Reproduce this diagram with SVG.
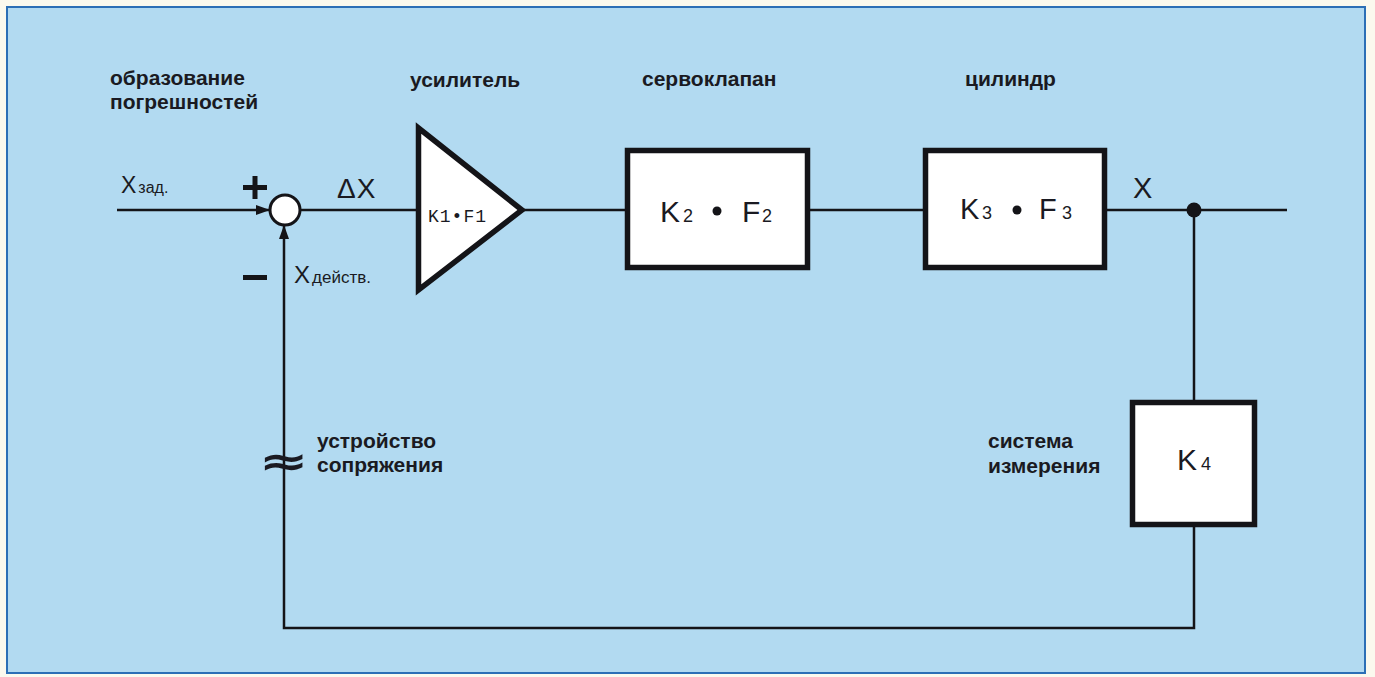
<svg xmlns="http://www.w3.org/2000/svg" width="1375" height="677" viewBox="0 0 1375 677">
<defs>
<style>
.lbl{font-family:"Liberation Sans",Arial,sans-serif;font-weight:bold;font-size:21px;fill:#1a1a22}
.sym{font-family:"Liberation Sans",Arial,sans-serif;font-size:28px;fill:#1a1a22}
.sub{font-family:"Liberation Sans",Arial,sans-serif;font-size:17px;fill:#1a1a22}
.box{fill:#ffffff;stroke:#141418;stroke-width:5.5}
.wire{fill:none;stroke:#141418;stroke-width:2.5}
</style>
<marker id="arr" viewBox="0 0 14 10" refX="14" refY="5" markerWidth="14" markerHeight="10" orient="auto" markerUnits="userSpaceOnUse">
<path d="M0,0 L14,5 L0,10 Z" fill="#141418"/>
</marker>
</defs>
<rect x="0" y="0" width="1375" height="677" fill="#fbf9ee"/>
<rect x="7" y="7" width="1358" height="666" fill="#b2daf1" stroke="#2c6fb6" stroke-width="2"/>

<g id="connectors">
<line class="wire" x1="117" y1="210" x2="270" y2="210" marker-end="url(#arr)"/>
<line class="wire" x1="300" y1="210" x2="418" y2="210"/>
<line class="wire" x1="524" y1="210" x2="626" y2="210"/>
<line class="wire" x1="809" y1="210" x2="924" y2="210"/>
<line class="wire" x1="1106" y1="210" x2="1287" y2="210"/>
<line class="wire" x1="1194" y1="210" x2="1194" y2="401"/>
<polyline class="wire" points="1194,526 1194,628 284,628 284,225" marker-end="url(#arr)"/>
<circle cx="1194" cy="210" r="7.5" fill="#141418"/>
</g>

<g id="sum">
<circle cx="285" cy="210" r="15" fill="#ffffff" stroke="#141418" stroke-width="3"/>
<rect x="243" y="185" width="24" height="5" fill="#141418"/>
<rect x="252.5" y="176" width="5" height="23" fill="#141418"/>
<rect x="243" y="275" width="24" height="5" fill="#141418"/>
</g>

<g id="amplifier">
<polygon class="box" points="418.5,128 418.5,290 522,210" stroke-width="7" stroke-linejoin="miter"/>
<text x="428" y="222" style="font-family:'Liberation Mono','DejaVu Sans Mono',monospace;font-size:18px;letter-spacing:1px;fill:#1a1a22">K1•F1</text>
</g>

<g id="servovalve">
<rect class="box" x="627.5" y="150.5" width="180" height="117"/>
<text class="sym" x="660" y="222" style="font-size:30px">K</text>
<text class="sub" x="683" y="222" style="font-size:18px">2</text>
<circle cx="717" cy="211" r="4.5" fill="#141418"/>
<text class="sym" x="742" y="222" style="font-size:30px">F</text>
<text class="sub" x="762" y="222" style="font-size:18px">2</text>
</g>

<g id="cylinder">
<rect class="box" x="925.5" y="150.5" width="179" height="117"/>
<text class="sym" x="960" y="219" style="font-size:29px">K</text>
<text class="sub" x="982" y="219" style="font-size:18px">3</text>
<circle cx="1017" cy="210" r="4.5" fill="#141418"/>
<text class="sym" x="1039" y="219" style="font-size:29px">F</text>
<text class="sub" x="1062" y="219" style="font-size:18px">3</text>
</g>

<g id="measure">
<rect class="box" x="1132.5" y="402.5" width="122" height="122"/>
<text class="sym" x="1177" y="470" style="font-size:30px">K</text>
<text class="sub" x="1201" y="470" style="font-size:18px">4</text>
</g>

<g id="labels">
<text class="lbl" x="110" y="85">образование</text>
<text class="lbl" x="110" y="109">погрешностей</text>
<text class="lbl" x="410" y="87">усилитель</text>
<text class="lbl" x="642" y="86">сервоклапан</text>
<text class="lbl" x="965" y="86">цилиндр</text>
<text class="lbl" x="317" y="448">устройство</text>
<text class="lbl" x="317" y="472">сопряжения</text>
<text class="lbl" x="988" y="448">система</text>
<text class="lbl" x="988" y="473">измерения</text>
<text class="sym" x="121" y="193" style="font-size:23px">X<tspan class="sub" dx="2" style="font-size:16px">зад.</tspan></text>
<text class="sym" x="294" y="283" style="font-size:24px">X<tspan class="sub" dx="2" style="font-size:17px">действ.</tspan></text>
<text class="sym" x="337" y="198" style="font-size:28px;letter-spacing:1px">ΔX</text>
<text class="sym" x="1133" y="198" style="font-size:29px">X</text>
<text x="284" y="475" text-anchor="middle" transform="translate(284 0) scale(1.5 1) translate(-284 0)" style="font-family:'DejaVu Sans',sans-serif;font-size:40px;font-weight:bold;fill:#1a1a22">≈</text>
</g>
</svg>
